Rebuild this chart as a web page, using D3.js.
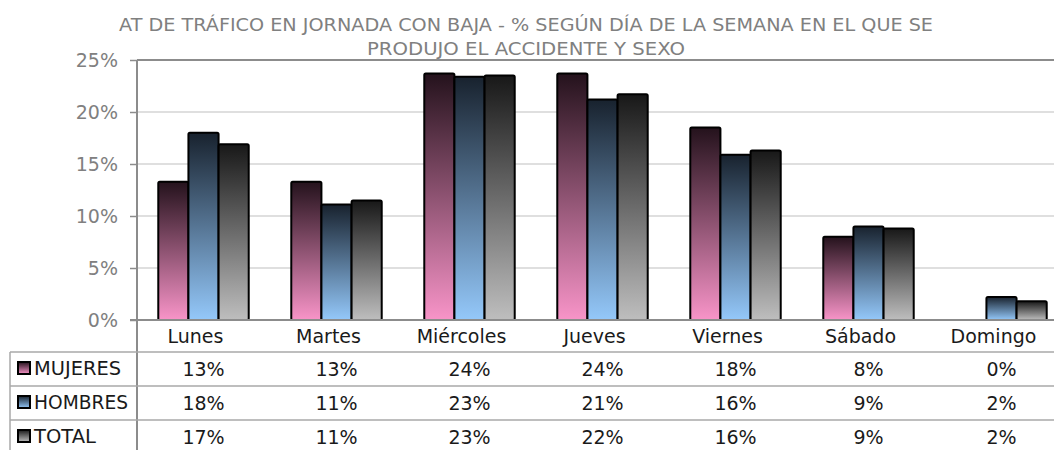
<!DOCTYPE html>
<html lang="es">
<head>
  <meta charset="UTF-8">
  <title>AT de tráfico – día de la semana</title>
  <script src="https://d3js.org/d3.v7.min.js"></script>
  <style>
    body { margin: 0; background: #ffffff; }
    svg { display: block; font-family: 'DejaVu Sans', sans-serif; }
  </style>
</head>
<body>
<svg id="chart" width="1054" height="450"></svg>
<script>
  // datos
  const dias = ["Lunes", "Martes", "Miércoles", "Jueves", "Viernes", "Sábado", "Domingo"];
  const series = ["MUJERES", "HOMBRES", "TOTAL"];
  const mujeres = [13.3, 13.3, 23.7, 23.7, 18.5, 8.0, 0.0];
  const hombres = [18.0, 11.1, 23.4, 21.2, 15.9, 9.0, 2.2];
  const total   = [16.9, 11.5, 23.5, 21.7, 16.3, 8.8, 1.8];
  const tablaMujeres = ["13%", "13%", "24%", "24%", "18%", "8%", "0%"];
  const tablaHombres = ["18%", "11%", "23%", "21%", "16%", "9%", "2%"];
  const tablaTotal   = ["17%", "11%", "23%", "22%", "16%", "9%", "2%"];
  const yTicks = [0, 5, 10, 15, 20, 25];

  const valores = [mujeres, hombres, total];
  const tablas = [tablaMujeres, tablaHombres, tablaTotal];
  const colores = [
    { top: "#24121c", bottom: "#f894c8" },
    { top: "#18222e", bottom: "#94c8fa" },
    { top: "#181818", bottom: "#bebebe" }
  ];

  const svg = d3.select("#chart");
  const plotLeft = 137, plotRight = 1068, plotTop = 60, plotBottom = 320;

  const x = d3.scaleBand().domain(dias).range([plotLeft, plotRight])
    .paddingInner(0.32).paddingOuter(0.16);
  const xs = d3.scaleBand().domain(series).range([0, x.bandwidth()]);
  const y = d3.scaleLinear().domain([0, 25]).range([plotBottom, plotTop]);

  // degradados
  const defs = svg.append("defs");
  colores.forEach((c, i) => {
    const g = defs.append("linearGradient").attr("id", "grad" + i)
      .attr("x1", 0).attr("y1", 0).attr("x2", 0).attr("y2", 1);
    g.append("stop").attr("offset", "0%").attr("stop-color", c.top);
    g.append("stop").attr("offset", "100%").attr("stop-color", c.bottom);
  });

  // título
  const title = svg.append("text")
    .attr("text-anchor", "middle")
    .attr("fill", "#808080")
    .style("font-size", "17px");
  title.append("tspan").attr("x", 526).attr("y", 31)
    .attr("textLength", 814).attr("lengthAdjust", "spacingAndGlyphs")
    .text("AT DE TRÁFICO EN JORNADA CON BAJA - % SEGÚN DÍA DE LA SEMANA EN EL QUE SE");
  title.append("tspan").attr("x", 526).attr("y", 55)
    .attr("textLength", 318).attr("lengthAdjust", "spacingAndGlyphs")
    .text("PRODUJO EL ACCIDENTE Y SEXO");

  // rejilla
  svg.append("g")
    .selectAll("line")
    .data(yTicks.filter(t => t > 0 && t < 25))
    .join("line")
    .attr("x1", plotLeft).attr("x2", 1054)
    .attr("y1", d => y(d)).attr("y2", d => y(d))
    .attr("stroke", "#d4d4d4").attr("stroke-width", 1.5);

  // eje y
  const yAxis = svg.append("g")
    .attr("transform", `translate(${plotLeft},0)`)
    .call(d3.axisLeft(y).tickValues(yTicks).tickFormat(d => d + "%").tickSize(7).tickPadding(12));
  yAxis.select(".domain").remove();
  yAxis.selectAll("line").attr("stroke", "#8c8c8c").attr("stroke-width", 1.5);
  yAxis.selectAll("text").attr("fill", "#808080").style("font-size", "19px")
    .style("font-family", "'DejaVu Sans', sans-serif");

  // barras
  const grupos = svg.append("g")
    .selectAll("g")
    .data(dias)
    .join("g")
    .attr("transform", d => `translate(${x(d)},0)`);

  grupos.selectAll("rect")
    .data((d, i) => series.map((s, j) => ({ s, j, v: valores[j][i] })).filter(d => d.v > 0))
    .join("rect")
    .attr("x", d => xs(d.s))
    .attr("y", d => y(d.v))
    .attr("width", xs.bandwidth())
    .attr("height", d => y(0) - y(d.v))
    .attr("rx", 1.5)
    .attr("fill", d => `url(#grad${d.j})`)
    .attr("stroke", "#000")
    .attr("stroke-width", 2);

  // marco: línea superior, eje vertical y base
  svg.append("line").attr("x1", plotLeft).attr("x2", 1054).attr("y1", plotTop).attr("y2", plotTop)
    .attr("stroke", "#8c8c8c").attr("stroke-width", 2);
  svg.append("line").attr("x1", plotLeft).attr("x2", plotLeft).attr("y1", plotTop).attr("y2", 450)
    .attr("stroke", "#8c8c8c").attr("stroke-width", 2);
  svg.append("line").attr("x1", 130).attr("x2", 1054).attr("y1", plotBottom).attr("y2", plotBottom)
    .attr("stroke", "#8c8c8c").attr("stroke-width", 2);

  // etiquetas de categoría
  svg.append("g")
    .selectAll("text")
    .data(dias)
    .join("text")
    .attr("x", d => x(d) + x.bandwidth() / 2 - 8)
    .attr("y", 343)
    .attr("text-anchor", "middle")
    .attr("fill", "#1a1a1a")
    .style("font-size", "19px")
    .text(d => d);

  // tabla de datos
  const filaY = [352, 386, 420];
  const tabla = svg.append("g");
  tabla.selectAll("line.h")
    .data(filaY)
    .join("line")
    .attr("class", "h")
    .attr("x1", 10).attr("x2", 1054)
    .attr("y1", d => d).attr("y2", d => d)
    .attr("stroke", "#a8a8a8").attr("stroke-width", 1.5);
  tabla.append("line").attr("x1", 10).attr("x2", 10).attr("y1", 352).attr("y2", 450)
    .attr("stroke", "#a8a8a8").attr("stroke-width", 1.5);

  series.forEach((s, j) => {
    const fy = filaY[j];
    tabla.append("rect")
      .attr("x", 18).attr("y", fy + 10).attr("width", 12).attr("height", 12)
      .attr("fill", `url(#grad${j})`).attr("stroke", "#000").attr("stroke-width", 2);
    tabla.append("text")
      .attr("x", 34).attr("y", fy + 23)
      .attr("fill", "#1a1a1a").style("font-size", "19px")
      .attr("textLength", s === "HOMBRES" ? 94 : (s === "MUJERES" ? 87 : 62))
      .attr("lengthAdjust", "spacingAndGlyphs")
      .text(s);
    tabla.selectAll("text.v" + j)
      .data(dias)
      .join("text")
      .attr("class", "v" + j)
      .attr("x", d => x(d) + x.bandwidth() / 2)
      .attr("y", fy + 24)
      .attr("text-anchor", "middle")
      .attr("fill", "#1a1a1a")
      .style("font-size", "19px")
      .text((d, i) => tablas[j][i]);
  });
</script>
</body>
</html>
